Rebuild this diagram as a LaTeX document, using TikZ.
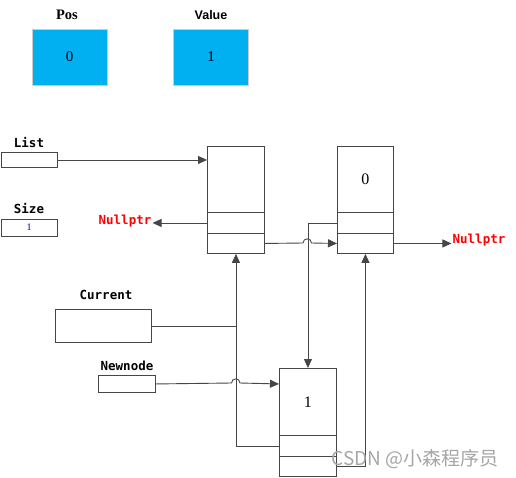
\documentclass[tikz,border=0pt]{standalone}
\usepackage{fontspec}
\setmainfont{Liberation Serif}
\newfontfamily\monob{DejaVu Sans Mono}
\newfontfamily\sansb{Liberation Sans}
\newfontfamily\cjk{Noto Sans CJK SC}
\usetikzlibrary{arrows.meta}
\definecolor{cellblue}{RGB}{0,176,240}
\definecolor{linegray}{RGB}{70,70,70}
\definecolor{nullred}{RGB}{255,0,0}
\tikzset{
  cell/.style={draw=linegray, line width=0.9pt, minimum width=#1, inner sep=0pt, anchor=north west},
  bluebox/.style={draw=black!20, line width=1pt, fill=cellblue, minimum width=75pt, minimum height=56pt, inner sep=0pt, font=\fontsize{15}{15}\selectfont},
  varbox/.style={draw=linegray, line width=0.9pt, inner sep=0pt, anchor=north west},
  lbl/.style={font=\monob\bfseries\fontsize{12.5}{12.5}\selectfont, inner sep=0pt},
  nulltxt/.style={font=\monob\bfseries\fontsize{12.5}{12.5}\selectfont, text=nullred, inner sep=1pt},
  conn/.style={draw=linegray, line width=0.9pt},
  arr/.style={conn, -{Triangle[length=9pt,width=8pt]}},
  numtxt/.style={font=\fontsize{16}{16}\selectfont}
}
\begin{document}
\begin{tikzpicture}[x=1pt,y=-1pt]
\useasboundingbox[fill=white] (0,0) rectangle (516,477);
% top boxes
\node[bluebox] (pos) at (69.5,57) {0};
\node[font=\fontsize{14.5}{14.5}\selectfont\bfseries, inner sep=0pt] (poslbl) at (67,15) {Pos};
\node[bluebox] (val) at (211,57) {1};
\node[font=\sansb\bfseries\fontsize{12.5}{12.5}\selectfont, inner sep=0pt] (vallbl) at (211,15) {Value};
% variable boxes
\node[lbl] (listlbl) at (29,143) {List};
\node[varbox, minimum width=56pt, minimum height=15pt] (list) at (1,152) {};
\node[lbl] (sizelbl) at (29,209) {Size};
\node[varbox, minimum width=56pt, minimum height=17pt] (size) at (1,219) {};
\node[font=\fontsize{10}{10}\selectfont, text=blue!70!black, inner sep=0pt] (sizeval) at (29,227.5) {1};
\node[lbl] (curlbl) at (106,295) {Current};
\node[varbox, minimum width=96pt, minimum height=33pt] (cur) at (55,309) {};
\node[lbl] (newlbl) at (127,366) {Newnode};
\node[varbox, minimum width=57pt, minimum height=17pt] (new) at (98,375) {};
% list node A
\node[cell=57pt, minimum height=66pt] (Atop) at (207,146) {};
\node[cell=57pt, minimum height=21pt] (Amid) at (207,212) {};
\node[cell=57pt, minimum height=20pt] (Abot) at (207,233) {};
% list node B
\node[cell=56pt, minimum height=66pt, numtxt] (Btop) at (337,146) {0};
\node[cell=56pt, minimum height=21pt] (Bmid) at (337,212) {};
\node[cell=56pt, minimum height=20pt] (Bbot) at (337,233) {};
% list node C
\node[cell=57pt, minimum height=67pt, numtxt] (Ctop) at (279,368) {1};
\node[cell=57pt, minimum height=21pt] (Cmid) at (279,435) {};
\node[cell=57pt, minimum height=20pt] (Cbot) at (279,456) {};
% Nullptr labels
\node[nulltxt] (nullL) at (125,221) {Nullptr};
\node[nulltxt] (nullR) at (479,240) {Nullptr};
% connectors
\draw[arr] (list.east) -- (list.east -| Atop.west);
\draw[arr] (Amid.west) -- (Amid.west -| nullL.east);
\draw[arr] (Abot.east) -- (303,243)
   .. controls (303,237.5) and (311.5,237.5) .. (311.5,243) -- (Bbot.west);
\draw[arr] (Bmid.west) -| (Ctop.north);
\draw[arr] (Bbot.east) -- (Bbot.east -| nullR.west);
\draw[arr] (Cmid.west) -| (Abot.south);
\draw[conn] (cur.east) -- (cur.east -| Abot.south);
\draw[arr] (new.east) -- (231.5,383)
   .. controls (231.5,377.5) and (240,377.5) .. (240,383) -- (Ctop.west |- new.east);
\draw[arr] (Cbot.east) -| (Bbot.south);
% watermark
\node[font=\cjk\fontsize{19}{19}\selectfont, text=black!35, inner sep=0pt] (wm) at (415,459) {CSDN @小森程序员};
\end{tikzpicture}
\end{document}
